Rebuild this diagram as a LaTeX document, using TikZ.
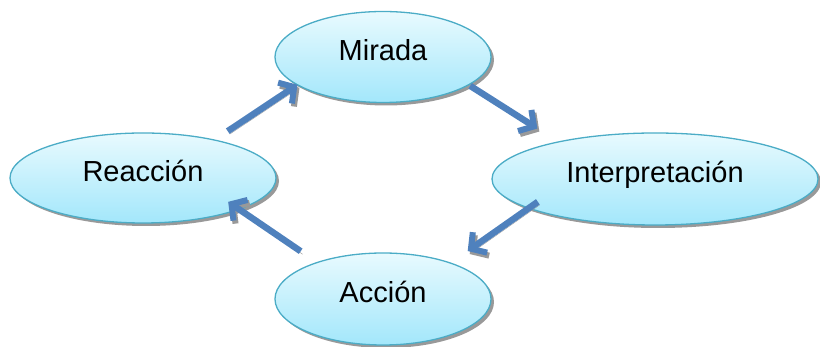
\documentclass[tikz,border=0pt]{standalone}
\usepackage{fontspec}
\setmainfont{Liberation Sans}
\usetikzlibrary{shapes.geometric,shadows,arrows.meta}
\definecolor{borde}{HTML}{4BACC6}
\definecolor{arriba}{HTML}{E8FAFE}
\definecolor{abajo}{HTML}{A3E7FB}
\definecolor{azul}{HTML}{4F81BD}

\begin{document}
\begin{tikzpicture}[x=1pt,y=1pt,
    burbuja/.style={ellipse,draw=borde,line width=1.3pt,top color=arriba,bottom color=abajo,
      inner sep=0pt,outer sep=0pt,text height=20pt,text depth=12pt,
      font=\fontsize{29}{35}\selectfont,
      drop shadow={shadow xshift=3pt,shadow yshift=-3pt,fill=gray,opacity=.8}},
    flecha/.style={draw=azul,line width=6.5pt,-{Straight Barb[length=11pt,width=25pt,line width=6pt]},
      preaction={draw=gray!80,transform canvas={shift={(2pt,-3pt)}}}}]
    \useasboundingbox (0,0) rectangle (820,347);

    \node[burbuja,minimum width=216pt,minimum height=91pt] (mir) at (383,290) {Mirada};
    \node[burbuja,minimum width=266pt,minimum height=90pt] (reac) at (143,169) {Reacción};
    \node[burbuja,minimum width=326pt,minimum height=92pt] (interp) at (655,168) {Interpretación};
    \node[burbuja,minimum width=216pt,minimum height=92pt] (acc) at (383,48) {Acción};

    \draw[flecha,shorten <=16pt] (reac.28) -- (mir.198);
    \draw[flecha,shorten <=2pt,shorten >=25pt] (mir.-18) -- (interp.159);
    \draw[flecha,shorten <=-11pt,shorten >=21pt] (interp.193) -- (acc.28);
    \draw[flecha,shorten <=20pt,shorten >=-13pt] (acc.151) -- (reac.-18);
  \end{tikzpicture}
\end{document}
